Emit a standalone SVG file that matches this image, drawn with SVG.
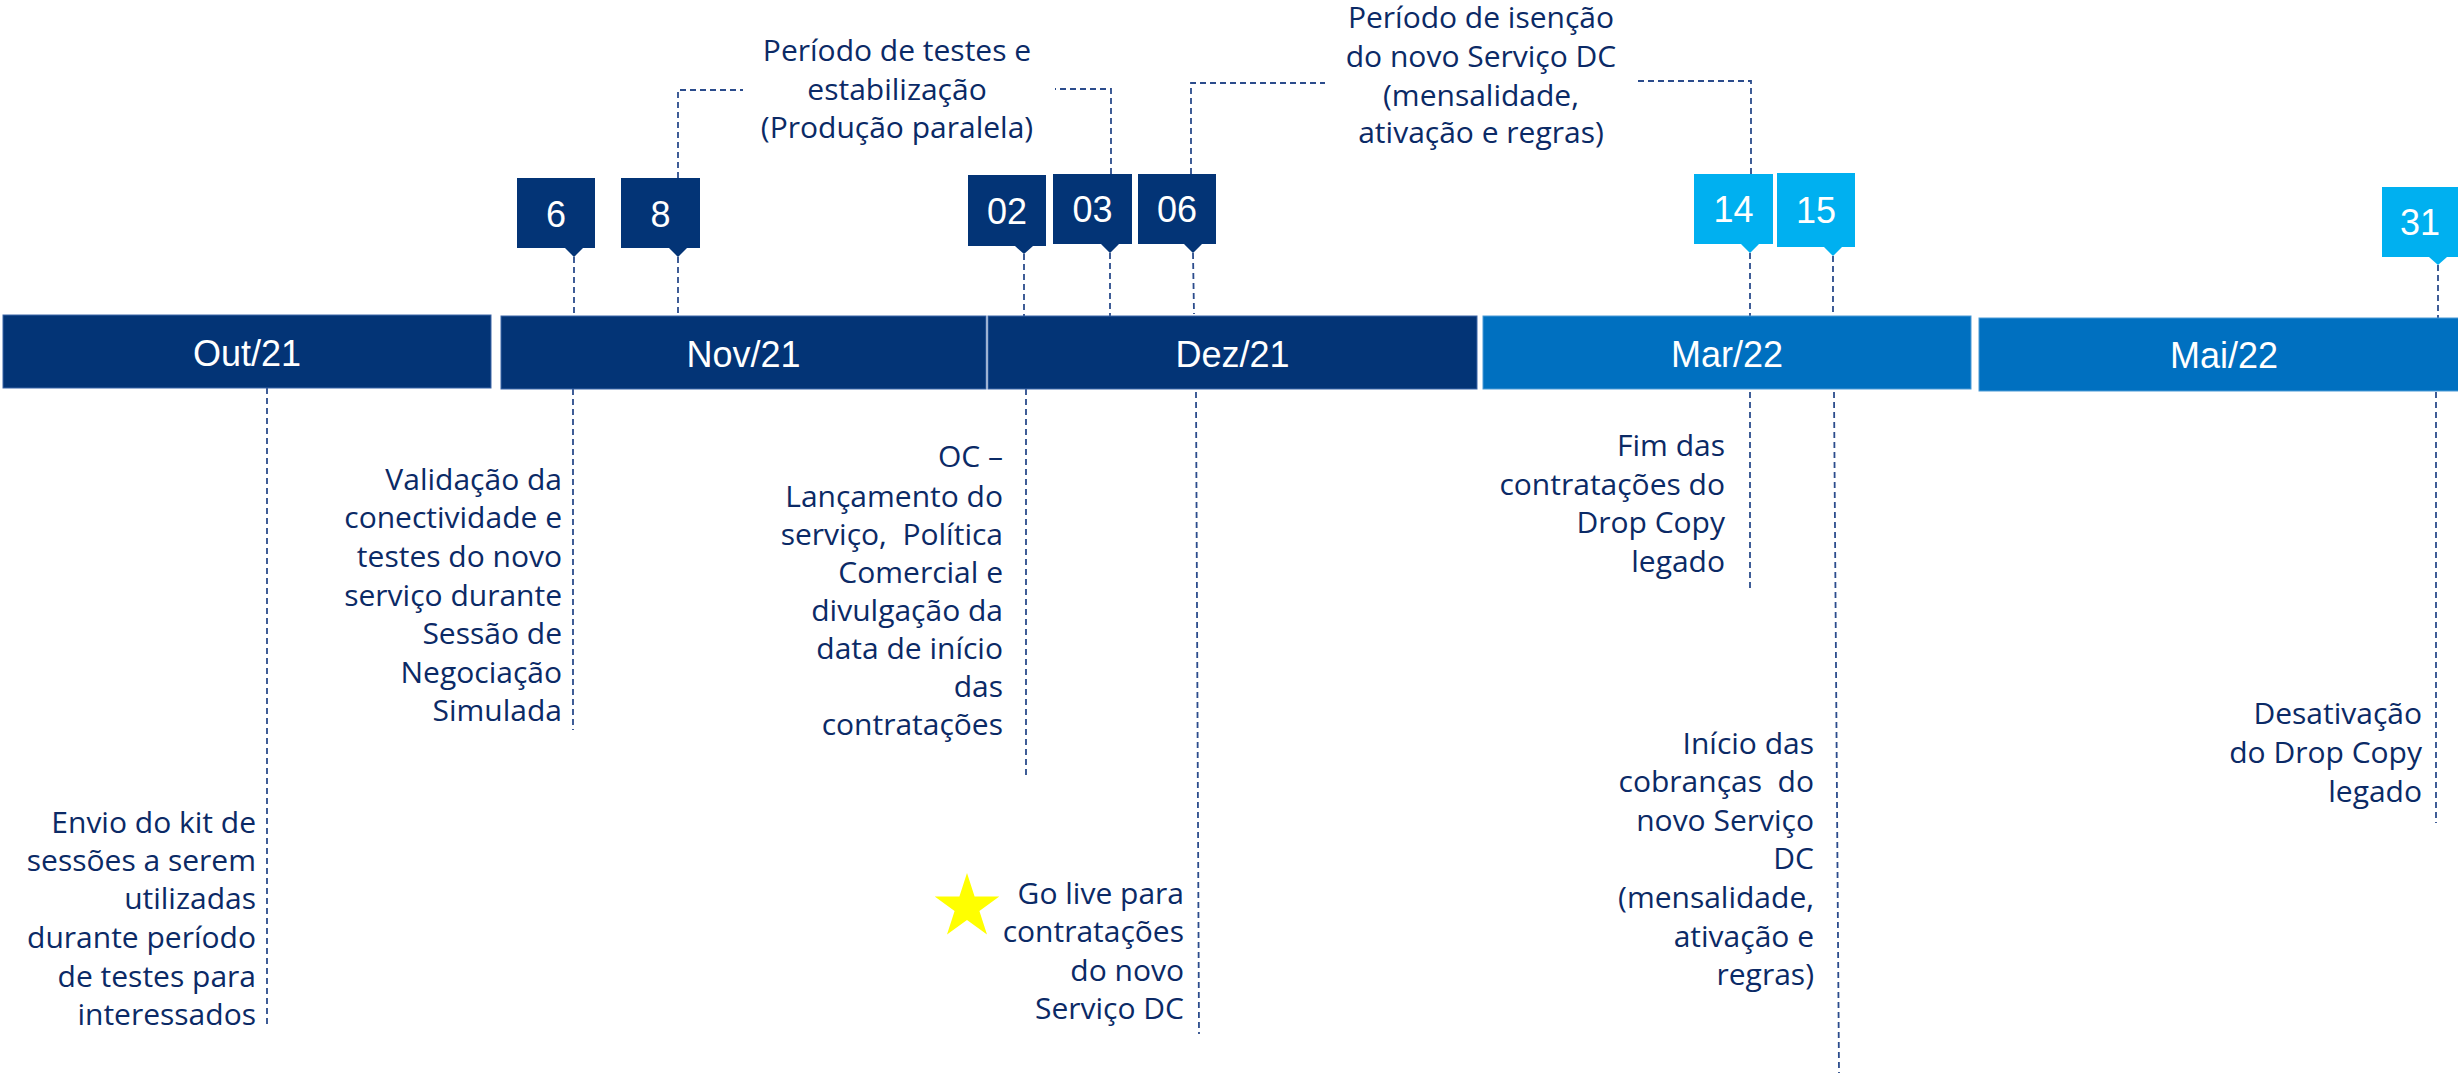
<svg xmlns="http://www.w3.org/2000/svg" width="2458" height="1073" viewBox="0 0 2458 1073">
<style>
.bar-dark{fill:#033476;stroke:#3d66a8;stroke-width:1}
.bar-mid{fill:#0070C0;stroke:#4a9ad6;stroke-width:1}
.box-dark{fill:#033476}
.box-light{fill:#00B0F0}
.lbl{font-family:"Liberation Sans",Arial,sans-serif;font-size:36px;fill:#ffffff;text-anchor:middle}
.note{font-family:"Open Sans","Noto Sans",sans-serif;font-size:30px;fill:#0B2A66;white-space:pre}
.r{text-anchor:end}
.c{text-anchor:middle}
.dash{fill:none;stroke:#2B4C8C;stroke-width:1.8;stroke-dasharray:6 4}
</style>
<rect width="2458" height="1073" fill="#ffffff"/>

<g id="connectors">
<path class="dash" d="M267,388 V1028"/>
<path class="dash" d="M574,257 V316 M573,389 V730"/>
<path class="dash" d="M678,257 V316 M678,178 V90 H743"/>
<path class="dash" d="M1024,254 V316 M1026,389 V779"/>
<path class="dash" d="M1110,253 V316 M1111,174 V89 H1055"/>
<path class="dash" d="M1193,253 L1194,314 M1191,174 V83 H1325 M1196,392 L1199,1034"/>
<path class="dash" d="M1750,253 V316 M1751,174 V81 H1636 M1750,392 V592"/>
<path class="dash" d="M1833,256 V314 M1834,392 L1839,1073"/>
<path class="dash" d="M2438,265 V318 M2436,392 V823"/>
</g>

<g id="bar-out"><rect class="bar-dark" x="3" y="315" width="488" height="73"/><text class="lbl" x="247" y="366">Out/21</text></g>
<g id="bar-nov"><rect class="bar-dark" x="501" y="316" width="485" height="73"/><text class="lbl" x="743.5" y="367">Nov/21</text></g>
<g id="bar-dez"><rect class="bar-dark" x="988" y="316" width="489" height="73"/><text class="lbl" x="1232.5" y="367">Dez/21</text></g>
<g id="bar-mar"><rect class="bar-mid" x="1483" y="316" width="488" height="73"/><text class="lbl" x="1727" y="367">Mar/22</text></g>
<g id="bar-mai"><rect class="bar-mid" x="1979" y="318" width="490" height="73"/><text class="lbl" x="2224" y="368">Mai/22</text></g>

<g id="day-6"><path class="box-dark" d="M517,178 H595 V248 H583 L574,257 L565,248 H517 Z"/><text class="lbl" x="556" y="227">6</text></g>
<g id="day-8"><path class="box-dark" d="M621,178 H700 V248 H687 L678,257 L669,248 H621 Z"/><text class="lbl" x="660.5" y="227">8</text></g>
<g id="day-02"><path class="box-dark" d="M968,175 H1046 V246 H1033 L1024,254 L1015,246 H968 Z"/><text class="lbl" x="1007" y="224">02</text></g>
<g id="day-03"><path class="box-dark" d="M1053,174 H1132 V244 H1119 L1110,253 L1101,244 H1053 Z"/><text class="lbl" x="1092.5" y="222">03</text></g>
<g id="day-06"><path class="box-dark" d="M1138,174 H1216 V244 H1202 L1193,253 L1184,244 H1138 Z"/><text class="lbl" x="1177" y="222">06</text></g>
<g id="day-14"><path class="box-light" d="M1694,174 H1773 V244 H1759 L1750,253 L1741,244 H1694 Z"/><text class="lbl" x="1733.5" y="222">14</text></g>
<g id="day-15"><path class="box-light" d="M1777,173 H1855 V247 H1842 L1833,256 L1824,247 H1777 Z"/><text class="lbl" x="1816" y="223">15</text></g>
<g id="day-31"><path class="box-light" d="M2382,187 H2462 V257 H2447 L2438,265 L2429,257 H2382 Z"/><text class="lbl" x="2420" y="235">31</text></g>

<g id="note-testes">
<text class="note c"><tspan x="897" y="61">Período de testes e</tspan><tspan x="897" y="100">estabilização</tspan><tspan x="897" y="138">(Produção paralela)</tspan></text>
</g>
<g id="note-isencao">
<text class="note c"><tspan x="1481" y="28">Período de isenção</tspan><tspan x="1481" y="67">do novo Serviço DC</tspan><tspan x="1481" y="106">(mensalidade,</tspan><tspan x="1481" y="143">ativação e regras)</tspan></text>
</g>
<g id="note-envio">
<text class="note r"><tspan x="256" y="833">Envio do kit de</tspan><tspan x="256" y="871">sessões a serem</tspan><tspan x="256" y="909">utilizadas</tspan><tspan x="256" y="948">durante período</tspan><tspan x="256" y="987">de testes para</tspan><tspan x="256" y="1025">interessados</tspan></text>
</g>
<g id="note-validacao">
<text class="note r"><tspan x="562" y="490">Validação da</tspan><tspan x="562" y="528">conectividade e</tspan><tspan x="562" y="567">testes do novo</tspan><tspan x="562" y="606">serviço durante</tspan><tspan x="562" y="644">Sessão de</tspan><tspan x="562" y="683">Negociação</tspan><tspan x="562" y="721">Simulada</tspan></text>
</g>
<g id="note-oc">
<text class="note r"><tspan x="1003" y="467">OC –</tspan><tspan x="1003" y="507">Lançamento do</tspan><tspan x="1003" y="545">serviço,  Política</tspan><tspan x="1003" y="583">Comercial e</tspan><tspan x="1003" y="621">divulgação da</tspan><tspan x="1003" y="659">data de início</tspan><tspan x="1003" y="697">das</tspan><tspan x="1003" y="735">contratações</tspan></text>
</g>
<g id="note-golive">
<path d="M967,873 L974.6,896.5 L999.3,896.5 L979.4,911 L987,934.5 L967,920 L947,934.5 L954.6,911 L934.7,896.5 L959.4,896.5 Z" fill="#FFFF00"/>
<text class="note r"><tspan x="1184" y="904">Go live para</tspan><tspan x="1184" y="942">contratações</tspan><tspan x="1184" y="981">do novo</tspan><tspan x="1184" y="1019">Serviço DC</tspan></text>
</g>
<g id="note-fim">
<text class="note r"><tspan x="1725" y="456">Fim das</tspan><tspan x="1725" y="495">contratações do</tspan><tspan x="1725" y="533">Drop Copy</tspan><tspan x="1725" y="572">legado</tspan></text>
</g>
<g id="note-inicio">
<text class="note r"><tspan x="1814" y="754">Início das</tspan><tspan x="1814" y="792">cobranças  do</tspan><tspan x="1814" y="831">novo Serviço</tspan><tspan x="1814" y="869">DC</tspan><tspan x="1814" y="908">(mensalidade,</tspan><tspan x="1814" y="947">ativação e</tspan><tspan x="1814" y="985">regras)</tspan></text>
</g>
<g id="note-desativacao">
<text class="note r"><tspan x="2422" y="724">Desativação</tspan><tspan x="2422" y="763">do Drop Copy</tspan><tspan x="2422" y="802">legado</tspan></text>
</g>
</svg>
